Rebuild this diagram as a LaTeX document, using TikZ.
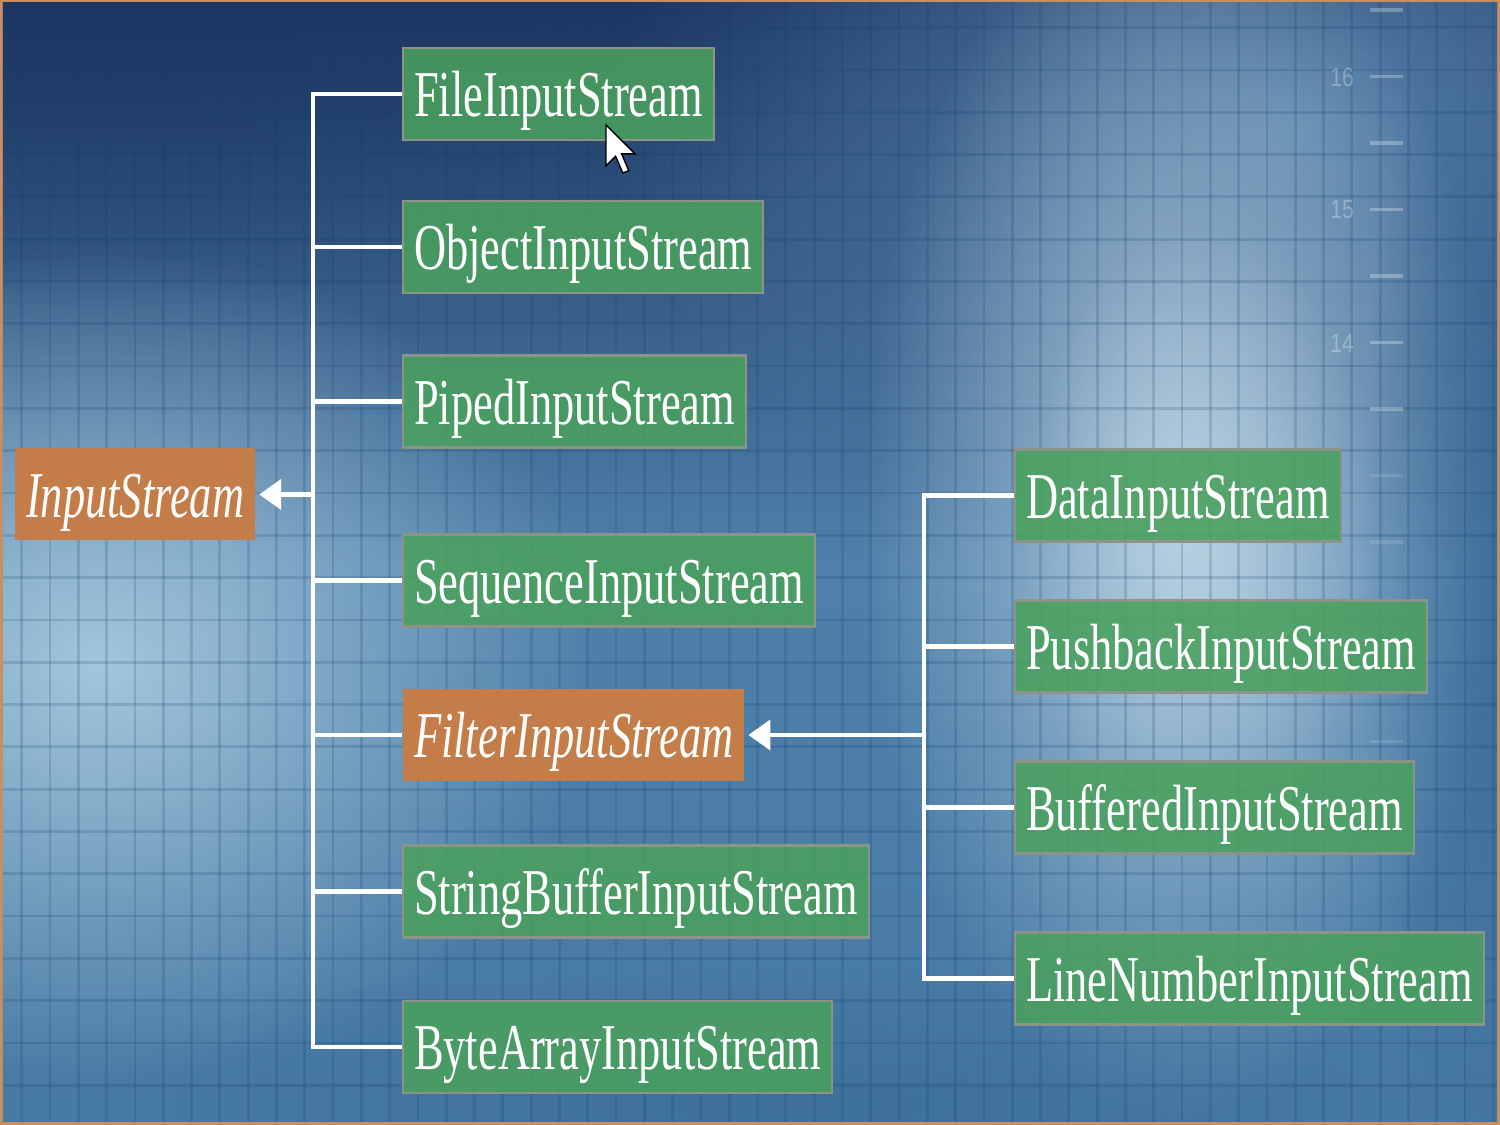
\documentclass[tikz,border=0pt]{standalone}
\usepackage{fontspec}
\newfontfamily\boxfont[FakeStretch=0.68]{Liberation Serif}
\newfontfamily\rulerfont[FakeStretch=0.8]{Liberation Sans}
\usetikzlibrary{arrows.meta,fadings}
\definecolor{frametan}{HTML}{C8905F}
\definecolor{bgtop}{HTML}{1C3663}
\definecolor{bgmid}{HTML}{4F80AA}
\definecolor{bgbot}{HTML}{477AA4}
\definecolor{glowA}{HTML}{B4D3E4}
\definecolor{glowB}{HTML}{C6DCE9}
\definecolor{glowC}{HTML}{5A86AE}
\definecolor{gridcol}{HTML}{123E6C}
\definecolor{boxgreen}{HTML}{4AA05E}
\definecolor{boxedge}{HTML}{8C9488}
\definecolor{boxorange}{HTML}{C47D48}
\definecolor{rightdark}{HTML}{2D5E8C}
\tikzfading[name=softglow, inner color=transparent!0, outer color=transparent!100]
\tikzset{
  classbox/.style={draw=boxedge, line width=0.6pt, fill=boxgreen, fill opacity=0.88,
    text opacity=1, text=white, anchor=west, inner xsep=0.11cm, inner ysep=0pt,
    text height=0.69cm, text depth=0.23cm,
    font=\boxfont\fontsize{18.6}{20}\selectfont},
  basebox/.style={classbox, draw=none, fill=boxorange, fill opacity=1,
    font=\boxfont\itshape\fontsize{18.6}{20}\selectfont},
  conn/.style={draw=white, line width=1.3pt},
  inherit/.style={conn, -{Triangle[length=0.22cm,width=0.3cm]}, shorten >=0.03cm},
  gridline/.style={draw=gridcol, line width=0.028cm, opacity=0.18},
  tick/.style={draw=white, line width=0.035cm, opacity=0.28},
  rulerlabel/.style={text=white, opacity=0.3, font=\rulerfont\fontsize{7.5}{8}\selectfont}
}
\begin{document}
\begin{tikzpicture}
\useasboundingbox (0,0) rectangle (15,11.25);
% frame and background
\fill[frametan] (0,0) rectangle (15,11.25);
\begin{scope}
\clip (0.03,0.04) rectangle (14.97,11.22);
\shade[top color=bgtop, bottom color=bgbot, middle color=bgmid] (0,0) rectangle (15,11.25);
\fill[glowC, path fading=softglow, opacity=0.9] (13.0,10.0) ellipse (7.0cm and 4.5cm);
\fill[glowA, path fading=softglow, opacity=0.85] (1.0,4.6) ellipse (5.0cm and 4.2cm);
\fill[glowB, path fading=softglow, opacity=0.8] (11.8,6.2) ellipse (3.2cm and 6.2cm);
\fill[glowB, path fading=softglow, opacity=0.5] (12.0,5.8) ellipse (1.8cm and 3.2cm);
\fill[bgtop, path fading=softglow, opacity=0.55] (1.0,11.2) ellipse (8cm and 3.0cm);
\fill[rightdark, path fading=softglow, opacity=0.55] (15.2,5.5) ellipse (1.6cm and 7cm);
\fill[rightdark, path fading=softglow, opacity=0.35] (8.0,0.2) ellipse (7cm and 1.5cm);
% grid
\foreach \k in {0,...,52} \draw[gridline] (0.217+0.283*\k,0) -- (0.217+0.283*\k,11.25);
\foreach \k in {0,...,26} \draw[gridline] (0,11.25-0.277-0.423*\k) -- (15,11.25-0.277-0.423*\k);
% ruler marks
\foreach \k in {0,...,6} \draw[tick] (13.70,11.15-0.665*\k) -- (14.03,11.15-0.665*\k);
\foreach \k in {7,...,11} \draw[tick, opacity=0.12] (13.70,11.15-0.665*\k) -- (14.03,11.15-0.665*\k);
\node[rulerlabel] (r16) at (13.42,10.48) {16};
\node[rulerlabel] (r15) at (13.42,9.15) {15};
\node[rulerlabel] (r14) at (13.42,7.82) {14};
\end{scope}
% nodes
\node[basebox] (Input) at (0.14,6.305) {InputStream};
\node[classbox] (File) at (4.02,10.31) {FileInputStream};
\node[classbox] (Object) at (4.02,8.78) {ObjectInputStream};
\node[classbox] (Piped) at (4.02,7.235) {PipedInputStream};
\node[classbox] (Sequence) at (4.02,5.445) {SequenceInputStream};
\node[basebox] (Filter) at (4.02,3.90) {FilterInputStream};
\node[classbox] (SBuf) at (4.02,2.335) {StringBufferInputStream};
\node[classbox] (Byte) at (4.02,0.78) {ByteArrayInputStream};
\node[classbox] (Data) at (10.14,6.295) {DataInputStream};
\node[classbox] (Push) at (10.14,4.785) {PushbackInputStream};
\node[classbox] (Buff) at (10.14,3.175) {BufferedInputStream};
\node[classbox] (LineNum) at (10.14,1.465) {LineNumberInputStream};
% buses
\coordinate (lbus) at (3.13,0);
\coordinate (rbus) at (9.24,0);
\draw[conn] (File.west) -- (lbus |- File.west) -- (lbus |- Byte.west) -- (Byte.west);
\foreach \n in {Object,Piped,Sequence,Filter,SBuf} \draw[conn] (lbus |- \n.west) -- (\n.west);
\draw[inherit] (lbus |- Input.east) -- (Input.east);
\draw[conn] (Data.west) -- (rbus |- Data.west) -- (rbus |- LineNum.west) -- (LineNum.west);
\foreach \n in {Push,Buff} \draw[conn] (rbus |- \n.west) -- (\n.west);
\draw[inherit] (rbus |- Filter.east) -- (Filter.east);
% mouse pointer
\begin{scope}[shift={(6.06,10.0)}, x=0.024cm, y=0.024cm]
\filldraw[fill=white, draw=black, line width=0.4pt] (0,0) -- (0,-17) -- (4,-13) -- (7,-20) -- (9.5,-19) -- (6.5,-12) -- (12,-12) -- cycle;
\end{scope}
\end{tikzpicture}
\end{document}
